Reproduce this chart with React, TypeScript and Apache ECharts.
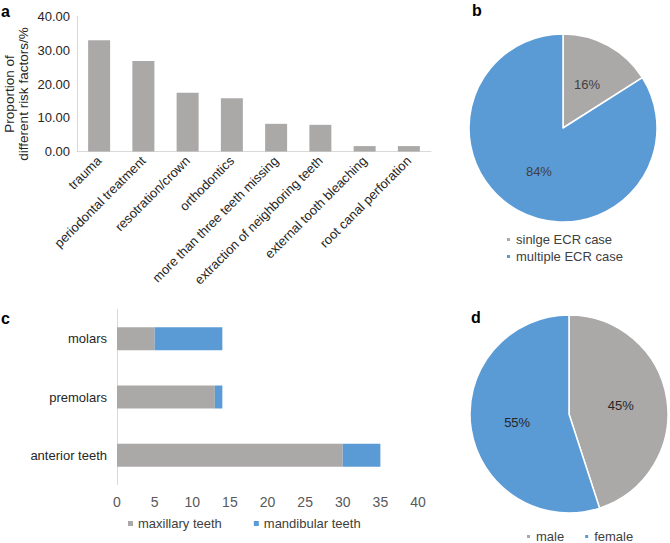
import React, { useEffect, useRef } from "react";
import * as echarts from "echarts";

const riskFactors = [
  "trauma",
  "periodontal treatment",
  "resotration/crown",
  "orthodontics",
  "more than three teeth missing",
  "extraction of neighboring teeth",
  "external tooth bleaching",
  "root canal perforation",
];
const riskValues = [33.0, 26.8, 17.4, 15.8, 8.2, 7.9, 1.6, 1.6];

const ecrCases = ["sinlge ECR case", "multiple ECR case"];
const ecrValues = [16, 84];

const toothTypes = ["anterior teeth", "premolars", "molars"];
const maxillaryValues = [30, 13, 5];
const mandibularValues = [5, 1, 9];

const sexes = ["male", "female"];
const sexValues = [45, 55];

const GRAY = "#ABA8A8";
const BLUE = "#5B9BD5";
const FONT = "'Liberation Sans', Arial, sans-serif";

export default function App() {
  const ref = useRef<HTMLDivElement>(null);
  useEffect(() => {
    if (!ref.current) return;
    const chart = echarts.init(ref.current, null, { renderer: "svg" });
    const letter = (t: string, x: number, y: number) => ({
      type: "text",
      x,
      y,
      style: { text: t, fill: "#000", font: `bold 16px ${FONT}`, textVerticalAlign: "middle" },
    });
    chart.setOption({
      animation: false,
      textStyle: { fontFamily: FONT },
      color: [GRAY, BLUE],
      graphic: [
        letter("a", 1, 11),
        letter("b", 472, 10),
        letter("c", 1, 318),
        letter("d", 471, 317),
        {
          type: "text",
          x: 16,
          y: 94,
          rotation: Math.PI / 2,
          style: {
            text: "Proportion of\ndifferent risk factors/%",
            fill: "#262626",
            font: `13.5px ${FONT}`,
            align: "center",
            verticalAlign: "middle",
            lineHeight: 14,
          },
        },
      ],
      grid: [
        { left: 77, top: 16.5, width: 354, height: 135 },
        { left: 117, top: 309.5, width: 301, height: 175 },
      ],
      xAxis: [
        {
          gridIndex: 0,
          type: "category",
          data: riskFactors,
          axisLine: { show: true, lineStyle: { color: "#D9D9D9" } },
          axisTick: { show: false },
          axisLabel: { interval: 0, rotate: 45, fontSize: 13, color: "#262626", margin: 7 },
        },
        {
          gridIndex: 1,
          type: "value",
          min: 0,
          max: 40,
          interval: 5,
          axisLine: { show: false },
          axisTick: { show: false },
          splitLine: { show: false },
          axisLabel: { fontSize: 14, color: "#595959", margin: 10 },
        },
      ],
      yAxis: [
        {
          gridIndex: 0,
          type: "value",
          min: 0,
          max: 40,
          interval: 10,
          axisLine: { show: true, lineStyle: { color: "#D9D9D9" } },
          axisTick: { show: false },
          splitLine: { show: false },
          axisLabel: {
            fontSize: 13,
            color: "#262626",
            margin: 7,
            formatter: (v: number) => v.toFixed(2),
          },
        },
        {
          gridIndex: 1,
          type: "category",
          data: toothTypes,
          axisLine: { show: true, lineStyle: { color: "#D9D9D9" } },
          axisTick: { show: false },
          axisLabel: { fontSize: 13, color: "#262626", margin: 10 },
        },
      ],
      legend: [
        {
          data: ecrCases,
          orient: "vertical",
          left: 505,
          top: 233,
          padding: 0,
          itemWidth: 5,
          itemHeight: 5,
          itemGap: 4,
          icon: "rect",
          textStyle: { fontSize: 13, color: "#404040" },
        },
        {
          data: ["maxillary teeth", "mandibular teeth"],
          left: 128,
          top: 517,
          padding: 0,
          itemWidth: 5,
          itemHeight: 5,
          itemGap: 32,
          icon: "rect",
          textStyle: { fontSize: 13, color: "#404040" },
        },
        {
          data: sexes,
          left: 525,
          top: 530,
          padding: 0,
          itemWidth: 5,
          itemHeight: 5,
          itemGap: 19,
          icon: "rect",
          textStyle: { fontSize: 13, color: "#404040" },
        },
      ],
      series: [
        {
          type: "bar",
          name: "risk",
          xAxisIndex: 0,
          yAxisIndex: 0,
          data: riskValues,
          barWidth: 22,
          itemStyle: { color: GRAY },
        },
        {
          type: "bar",
          name: "maxillary teeth",
          xAxisIndex: 1,
          yAxisIndex: 1,
          stack: "teeth",
          data: maxillaryValues,
          barWidth: 23,
          itemStyle: { color: GRAY },
        },
        {
          type: "bar",
          name: "mandibular teeth",
          xAxisIndex: 1,
          yAxisIndex: 1,
          stack: "teeth",
          data: mandibularValues,
          barWidth: 23,
          itemStyle: { color: BLUE },
        },
        {
          type: "pie",
          name: "ecr",
          center: [563, 128],
          radius: 94,
          startAngle: 90,
          data: ecrCases.map((n, i) => ({ name: n, value: ecrValues[i] })),
          itemStyle: { borderColor: "#fff", borderWidth: 1.5 },
          label: {
            position: "inside",
            formatter: (p: any) => `${p.value}%`,
            fontSize: 13,
            color: "#404040",
          },
          labelLine: { show: false },
        },
        {
          type: "pie",
          name: "sex",
          center: [569, 414],
          radius: 99,
          startAngle: 90,
          data: sexes.map((n, i) => ({ name: n, value: sexValues[i] })),
          itemStyle: { borderColor: "#fff", borderWidth: 1.5 },
          label: {
            position: "inside",
            formatter: (p: any) => `${p.value}%`,
            fontSize: 13,
            color: "#262626",
          },
          labelLine: { show: false },
        },
      ],
    });
    return () => chart.dispose();
  }, []);
  return (
    <div
      ref={ref}
      style={{ position: "absolute", left: 0, top: 0, width: 670, height: 543 }}
    />
  );
}
